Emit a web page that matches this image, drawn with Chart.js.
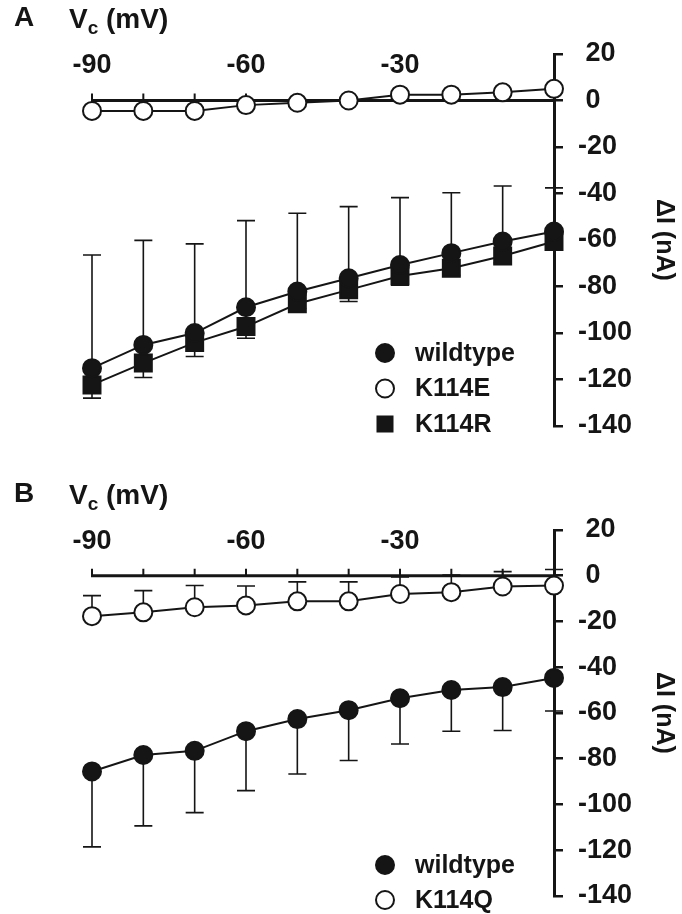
<!DOCTYPE html>
<html>
<head>
<meta charset="utf-8">
<script src="https://cdn.jsdelivr.net/npm/chart.js@4.4.1/dist/chart.umd.min.js"></script>
<style>
  html, body { margin: 0; padding: 0; background: #fff; overflow: hidden; }
  .panel { position: relative; width: 682px; }
  canvas { display: block; }
</style>
</head>
<body>
<div class="panel" style="height:457px"><canvas id="chartA" width="682" height="457"></canvas></div>
<div class="panel" style="height:470px"><canvas id="chartB" width="682" height="470"></canvas></div>
<script>
// clamp voltages (mV) and the labelled ticks on the top of each panel
const voltages = [-90, -80, -70, -60, -50, -40, -30, -20, -10, 0];
const voltageTicks = [-90, -60, -30];

// Panel A - delta I (nA), error bars are one-sided
const wildtypeA = [-115.2, -105.2, -100.1, -89, -82.2, -76.5, -70.8, -65.7, -60.7, -56.4];
const wildtypeAErr = [48.7, 45, 38.4, 37.3, 33.7, 30.8, 29, 26, 23.9, 18.8];
const k114eA = [-4.5, -4.5, -4.5, -2, -1, 0, 2.5, 2.5, 3.5, 5];
const k114rA = [-122.4, -113, -104.2, -97.3, -87.5, -81.5, -75.5, -72.2, -66.9, -60.7];
const k114rAErr = [5.7, 6.2, 6, 5, 2, 5, 4, 3, 3, 3.6];

// Panel B
const wildtypeB = [-85.6, -78.4, -76.6, -68, -62.7, -58.8, -53.6, -50, -48.7, -44.7];
const wildtypeBErr = [33, 31, 27, 26, 24, 22, 20, 18, 19, 14.5];
const k114qB = [-17.7, -16, -13.8, -13, -11.2, -11.2, -8, -7.2, -4.7, -4.3];
const k114qBErr = [9, 9.5, 9.5, 8.5, 8.5, 8.5, 7.5, 7.5, 6.5, 7];

const ink = '#151515';
const fontFamily = '"Liberation Sans", Arial, Helvetica, sans-serif';

function toPoints(values) {
    return voltages.map((v, i) => ({ x: v, y: values[i] }));
}

function series(label, values, style) {
    return {
        label,
        data: toPoints(values),
        clip: false,
        borderColor: ink,
        borderWidth: 2,
        tension: 0,
        pointStyle: style === 'square' ? 'rect' : 'circle',
        pointRadius: style === 'square' ? 12 : 9,
        pointBorderWidth: 2,
        pointBorderColor: ink,
        pointBackgroundColor: style === 'open' ? '#ffffff' : ink,
        pointHoverRadius: 9
    };
}

// draws the zero-current voltage axis, error bars, panel letter, Vc title and legend
const decorPlugin = {
    id: 'decor',
    beforeDatasetsDraw(chart, args, opts) {
        const ctx = chart.ctx;
        const xs = chart.scales.x;
        const ys = chart.scales.y;
        const y0 = ys.getPixelForValue(0);
        ctx.save();
        ctx.strokeStyle = ink;
        ctx.lineWidth = 3;
        ctx.beginPath();
        ctx.moveTo(xs.getPixelForValue(voltages[0]) - 1, y0);
        ctx.lineTo(xs.getPixelForValue(0), y0);
        ctx.stroke();
        ctx.lineWidth = 2;
        ctx.beginPath();
        voltages.forEach(v => {
            if (v === 0) return;
            const px = xs.getPixelForValue(v);
            ctx.moveTo(px, y0);
            ctx.lineTo(px, y0 - 7);
        });
        ctx.stroke();

        ctx.lineWidth = 1.6;
        opts.errors.forEach(e => {
            const data = chart.data.datasets[e.dataset].data;
            data.forEach((pt, i) => {
                const px = xs.getPixelForValue(pt.x);
                const p1 = ys.getPixelForValue(pt.y);
                const p2 = ys.getPixelForValue(pt.y + e.dir * e.values[i]);
                ctx.beginPath();
                ctx.moveTo(px, p1);
                ctx.lineTo(px, p2);
                ctx.moveTo(px - 9, p2);
                ctx.lineTo(px + 9, p2);
                ctx.stroke();
            });
        });
        ctx.restore();
    },
    afterDraw(chart, args, opts) {
        const ctx = chart.ctx;
        const xs = chart.scales.x;
        const ys = chart.scales.y;
        const y0 = ys.getPixelForValue(0);
        ctx.save();
        ctx.fillStyle = ink;
        ctx.textBaseline = 'alphabetic';

        // voltage tick labels above the zero line
        ctx.font = 'bold 27px ' + fontFamily;
        ctx.textAlign = 'center';
        voltageTicks.forEach(v => {
            ctx.fillText(String(v), xs.getPixelForValue(v), y0 - 27);
        });

        // panel letter
        ctx.font = 'bold 28px ' + fontFamily;
        ctx.textAlign = 'left';
        ctx.fillText(opts.letter, 14, y0 - 74);

        // Vc (mV)
        let tx = 69;
        const ty = y0 - 72;
        ctx.fillText('V', tx, ty);
        tx += ctx.measureText('V').width;
        ctx.font = 'bold 19px ' + fontFamily;
        ctx.fillText('c', tx, ty + 6);
        tx += ctx.measureText('c').width;
        ctx.font = 'bold 28px ' + fontFamily;
        ctx.fillText(' (mV)', tx, ty);

        // legend
        const lg = opts.legend;
        ctx.textBaseline = 'middle';
        lg.items.forEach((idx, k) => {
            const ds = chart.data.datasets[idx];
            const cx = lg.x;
            const cy = lg.y + k * lg.gap;
            ctx.lineWidth = 2;
            ctx.strokeStyle = ink;
            ctx.fillStyle = ds.pointBackgroundColor;
            if (ds.pointStyle === 'rect') {
                ctx.fillStyle = ink;
                ctx.fillRect(cx - 8.5, cy - 8.5, 17, 17);
            } else {
                ctx.beginPath();
                ctx.arc(cx, cy, 9, 0, Math.PI * 2);
                ctx.fill();
                ctx.stroke();
            }
            ctx.fillStyle = ink;
            ctx.font = 'bold 25px ' + fontFamily;
            ctx.fillText(ds.label, cx + 30, cy + 1);
        });
        ctx.restore();
    }
};

function makeOptions(padding, letter, errors, legend) {
    return {
        responsive: false,
        animation: false,
        devicePixelRatio: 1,
        layout: { padding },
        plugins: {
            legend: { display: false },
            tooltip: { enabled: false },
            decor: { letter, errors, legend }
        },
        scales: {
            x: {
                type: 'linear',
                min: -90,
                max: 0,
                display: false
            },
            y: {
                type: 'linear',
                position: 'right',
                min: -140,
                max: 20,
                afterFit: scale => { scale.width = 128; },
                ticks: {
                    stepSize: 20,
                    color: ink,
                    padding: 15,
                    font: { family: fontFamily, size: 27, weight: 'bold' },
                    callback: v => (v >= 0 ? ' ' : '') + v
                },
                grid: {
                    drawOnChartArea: false,
                    drawTicks: true,
                    tickLength: 9,
                    color: ink,
                    lineWidth: 2.5
                },
                border: { display: true, color: ink, width: 3 },
                title: {
                    display: true,
                    text: 'ΔI (nA)',
                    color: ink,
                    padding: { top: 3, bottom: 0 },
                    font: { family: fontFamily, size: 25, weight: 'bold' }
                }
            }
        }
    };
}

new Chart(document.getElementById('chartA'), {
    type: 'line',
    data: {
        datasets: [
            series('wildtype', wildtypeA, 'filled'),
            series('K114E', k114eA, 'open'),
            series('K114R', k114rA, 'square')
        ]
    },
    options: makeOptions(
        { top: 54, bottom: 31, left: 92, right: 0 },
        'A',
        [
            { dataset: 0, values: wildtypeAErr, dir: 1 },
            { dataset: 2, values: k114rAErr, dir: -1 }
        ],
        { x: 385, y: 353, gap: 35.5, items: [0, 1, 2] }
    ),
    plugins: [decorPlugin]
});

new Chart(document.getElementById('chartB'), {
    type: 'line',
    data: {
        datasets: [
            series('wildtype', wildtypeB, 'filled'),
            series('K114Q', k114qB, 'open')
        ]
    },
    options: makeOptions(
        { top: 73, bottom: 26, left: 92, right: 0 },
        'B',
        [
            { dataset: 0, values: wildtypeBErr, dir: -1 },
            { dataset: 1, values: k114qBErr, dir: 1 }
        ],
        { x: 385, y: 408, gap: 35, items: [0, 1] }
    ),
    plugins: [decorPlugin]
});
</script>
</body>
</html>
